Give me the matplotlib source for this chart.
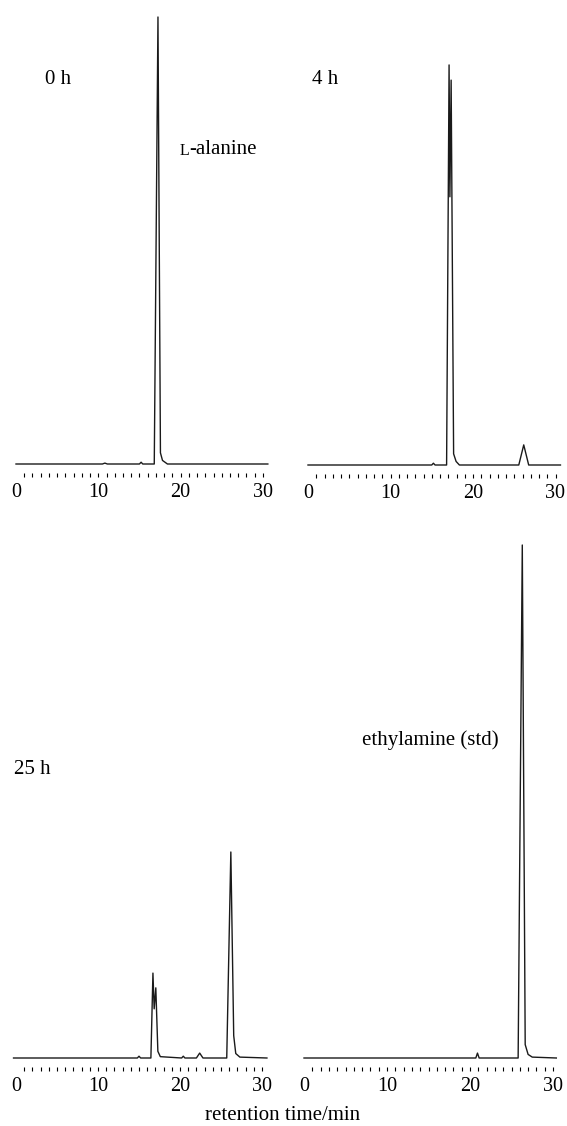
import numpy as np
import matplotlib.pyplot as plt

plt.rcParams['font.family'] = ['Liberation Serif', 'DejaVu Serif']

# retention time (min) and detector response (% of full scale)
t_0h = [0.0, 10.5, 10.8, 11.1, 15.0, 15.2, 15.4, 16.8, 17.25, 17.55, 17.8, 18.4, 30.6]
s_0h = [0.0, 0.0, 0.2, 0.0, 0.0, 0.4, 0.0, 0.0, 100.0, 2.5, 0.8, 0.0, 0.0]

t_4h = [0.0, 15.0, 15.2, 15.4, 16.8, 17.1, 17.2, 17.35, 17.65, 17.95, 18.35,
        25.55, 26.15, 26.75, 30.6]
s_4h = [0.0, 0.0, 0.4, 0.0, 0.0, 89.5, 60.0, 86.1, 2.5, 0.8, 0.0,
        0.0, 4.5, 0.0, 0.0]

t_25h = [-0.3, 14.8, 15.0, 15.2, 16.45, 16.7, 16.85, 17.05, 17.3, 17.6,
         20.2, 20.4, 20.6, 22.0, 22.4, 22.8, 25.7, 26.2, 26.55, 26.8, 27.3, 30.6]
s_25h = [0.0, 0.0, 0.4, 0.0, 0.0, 19.0, 11.0, 15.7, 1.5, 0.3,
         0.0, 0.4, 0.0, 0.0, 1.1, 0.0, 0.0, 46.1, 5.0, 1.0, 0.2, 0.0]

t_std = [0.0, 20.7, 20.9, 21.1, 25.8, 26.3, 26.65, 27.0, 27.5, 30.4]
s_std = [0.0, 0.0, 1.1, 0.0, 0.0, 114.8, 3.0, 0.8, 0.2, 0.0]

xticks = [0, 10, 20, 30]

W, H = 567, 1126
fig = plt.figure(figsize=(W / 100, H / 100), dpi=100)


def panel(t, s, x0, pxmin, base, top, ytop):
    # x0: pixel of 0 min, pxmin: pixels per minute, base/top: pixel rows
    ax = fig.add_axes([x0 / W, 1 - base / H, 30 * pxmin / W, (base - top) / H])
    ax.patch.set_visible(False)
    ax.plot(t, s, color='#1a1a1a', lw=1.0, clip_on=False)
    ax.set_xlim(0, 30)
    ax.set_ylim(0, ytop)
    ax.yaxis.set_visible(False)
    for sp in ax.spines.values():
        sp.set_visible(False)
    ax.spines['bottom'].set_position(('outward', 9.5))
    ax.xaxis.remove_overlapping_locs = False
    ax.set_xticks(xticks)
    ax.set_xticks(np.arange(1, 31), minor=True)
    ax.tick_params(axis='x', which='major', length=0, labelsize=14.5, pad=4)
    ax.tick_params(axis='x', which='minor', direction='in', length=3, width=0.8)
    return ax


panel(t_0h, s_0h, 16, 8.23, 464, 17, 100)
panel(t_4h, s_4h, 308, 8.25, 465, 18, 100)
panel(t_25h, s_25h, 16, 8.2, 1058, 545, 114.8)
panel(t_std, s_std, 304, 8.3, 1058, 545, 114.8)


def ftext(px, py, s, size=15, **kw):
    fig.text(px / W, 1 - py / H, s, va='center', fontsize=size, **kw)


ftext(45, 80, '0 h')
ftext(312, 80, '4 h')
ftext(14, 770, '25 h')
ftext(362, 740, 'ethylamine (std)')
ftext(180, 151, 'L', size=11.5)
ftext(189, 150, '-alanine')
ftext(283, 1115, 'retention time/min', ha='center')

fig.savefig('out.png', dpi=100)
